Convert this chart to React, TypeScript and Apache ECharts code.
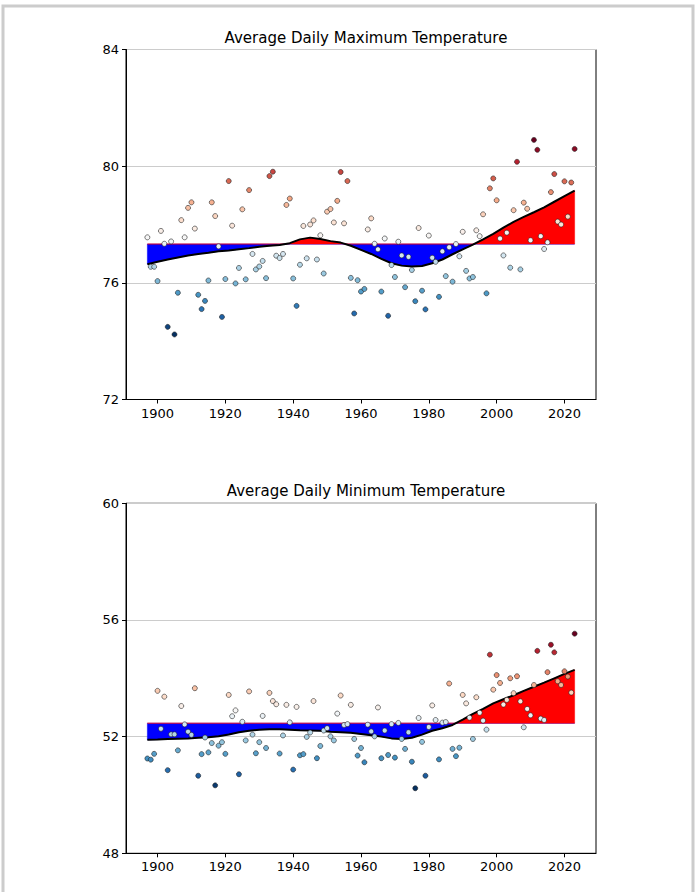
import React, { useEffect, useRef } from "react";
import * as echarts from "echarts";

const START_YEAR = 1897;

// Average daily maximum temperature, 1897..2023
const maxTemps = [
  77.56, 76.55, 76.55, 76.06, 77.78, 77.34, 74.49, 77.42, 74.23, 75.66, // 1897-1906
  78.15, 77.56, 78.57, 78.76, 77.86, 75.59, 75.10, 75.38, 76.08, 78.76, // 1907-1916
  78.29, 77.25, 74.83, 76.13, 79.49, 77.96, 75.98, 76.51, 78.52, 76.12, // 1917-1926
  79.18, 76.99, 76.46, 76.56, 76.75, 76.16, 79.66, 79.81, 76.93, 76.85, // 1927-1936
  76.99, 78.67, 78.89, 76.15, 75.21, 76.62, 77.95, 76.84, 78.00, 78.14, // 1937-1946
  76.80, 77.63, 76.32, 78.44, 78.53, 78.07, 78.81, 79.80, 78.04, 79.49, // 1947-1956
  76.17, 74.95, 76.09, 75.70, 75.79, 77.83, 78.21, 77.34, 77.15, 75.70, // 1957-1966
  77.52, 74.87, 76.61, 76.20, 77.41, 76.94, 75.85, 76.89, 76.44, 75.37, // 1967-1976
  77.88, 75.73, 75.09, 77.62, 76.86, 76.72, 75.52, 77.08, 76.23, 77.22, // 1977-1986
  76.04, 77.33, 76.91, 77.75, 76.41, 76.15, 76.20, 77.80, 77.60, 78.35, // 1987-1996
  75.64, 79.24, 79.58, 78.83, 77.52, 76.94, 77.72, 76.52, 78.49, 80.15, // 1997-2006
  76.46, 78.75, 78.54, 77.46, 80.90, 80.56, 77.60, 77.16, 77.39, 79.11, // 2007-2016
  79.73, 78.10, 78.00, 79.48, 78.27, 79.44, 80.59, // 2017-2023
];

// Average daily minimum temperature, 1897..2023
const minTemps = [
  51.25, 51.21, 51.41, 53.57, 52.27, 53.37, 50.85, 52.08, 52.08, 51.53, // 1897-1906
  53.05, 52.42, 52.17, 52.06, 53.66, 50.66, 51.40, 51.97, 51.46, 51.78, // 1907-1916
  50.33, 51.69, 51.81, 51.41, 53.43, 52.70, 52.90, 50.71, 52.51, 51.87, // 1917-1926
  53.55, 52.07, 51.43, 51.81, 52.71, 51.61, 53.50, 53.22, 53.11, 51.42, // 1927-1936
  52.04, 53.09, 52.49, 50.87, 53.02, 51.36, 51.40, 51.99, 52.14, 53.22, // 1937-1946
  51.26, 51.68, 52.21, 52.29, 52.01, 51.87, 52.79, 53.41, 52.40, 52.43, // 1947-1956
  53.09, 51.92, 51.35, 51.61, 51.12, 52.41, 52.18, 52.01, 53.00, 51.26, // 1957-1966
  52.21, 51.37, 52.43, 51.28, 52.47, 51.92, 51.58, 52.15, 51.14, 50.23, // 1967-1976
  52.64, 51.82, 50.66, 52.33, 53.07, 52.57, 51.22, 52.48, 52.50, 53.82, // 1977-1986
  51.58, 51.33, 51.62, 53.43, 53.14, 52.65, 51.92, 53.35, 52.82, 52.55, // 1987-1996
  52.24, 54.81, 53.61, 54.11, 53.84, 53.10, 53.26, 54.00, 53.49, 54.07, // 1997-2006
  53.21, 52.32, 52.95, 52.73, 53.77, 54.94, 52.62, 52.57, 54.21, 55.15, // 2007-2016
  54.89, 53.90, 53.77, 54.24, 54.06, 53.51, 55.53, // 2017-2023
];

// Smoothed trend read at these years
const trendYears = [
  1897, 1900, 1903, 1906, 1909, 1912, 1915, 1918, 1921, 1924, 1927, 1930, 1933, 1936, 1939,
  1942, 1945, 1948, 1951, 1954, 1957, 1960, 1963, 1966, 1969, 1972, 1975, 1978, 1981, 1984,
  1987, 1990, 1993, 1996, 1999, 2002, 2005, 2008, 2011, 2014, 2017, 2020, 2023,
];
const maxTrend = [
  76.64, 76.72, 76.80, 76.87, 76.94, 76.99, 77.03, 77.08, 77.11, 77.15, 77.19, 77.24, 77.27, 77.30, 77.36,
  77.49, 77.55, 77.50, 77.43, 77.38, 77.27, 77.13, 76.99, 76.82, 76.67, 76.59, 76.56, 76.58, 76.67, 76.80,
  76.98, 77.15, 77.31, 77.49, 77.68, 77.89, 78.09, 78.26, 78.42, 78.59, 78.78, 78.97, 79.16,
];
const minTrend = [
  51.89, 51.90, 51.92, 51.93, 51.94, 51.96, 51.98, 52.01, 52.07, 52.15, 52.20, 52.24, 52.25, 52.25, 52.24,
  52.22, 52.21, 52.20, 52.17, 52.15, 52.13, 52.09, 52.05, 52.00, 51.94, 51.92, 51.96, 52.07, 52.20, 52.29,
  52.40, 52.58, 52.78, 52.95, 53.14, 53.28, 53.42, 53.57, 53.71, 53.85, 54.00, 54.15, 54.29,
];

const maxBaseline = 77.33;
const minBaseline = 52.46;

const xTickYears = [1900, 1920, 1940, 1960, 1980, 2000, 2020];
const maxYRange = [72, 84];
const minYRange = [48, 60];
const titles = ["Average Daily Maximum Temperature", "Average Daily Minimum Temperature"];

const RDBU_R = [
  "#053061", "#2166ac", "#4393c3", "#92c5de", "#d1e5f0", "#f7f7f7",
  "#fddbc7", "#f4a582", "#d6604d", "#b2182b", "#67001f",
];

const FONT = "DejaVu Sans";

function buildOption() {
  const grids: any[] = [];
  const xAxes: any[] = [];
  const yAxes: any[] = [];
  const series: any[] = [];
  const visualMaps: any[] = [];
  const titleList: any[] = [];

  const panels = [
    { values: maxTemps, trend: maxTrend, base: maxBaseline, yr: maxYRange, top: 49.5, title: titles[0] },
    { values: minTemps, trend: minTrend, base: minBaseline, yr: minYRange, top: 503.3, title: titles[1] },
  ];

  panels.forEach((p, i) => {
    grids.push({
      left: 126,
      top: p.top,
      width: 470,
      height: 350,
      show: true,
      borderColor: "#000",
      borderWidth: 1,
      backgroundColor: "transparent",
    });
    xAxes.push({
      type: "value",
      gridIndex: i,
      min: 1890.7,
      max: 2029.3,
      splitLine: { show: false },
      axisLine: { show: true, onZero: false, lineStyle: { color: "#000", width: 1 } },
      axisTick: { show: true, length: 4, lineStyle: { color: "#000" }, customValues: xTickYears },
      axisLabel: {
        color: "#000",
        fontFamily: FONT,
        fontSize: 13,
        margin: 7,
        customValues: xTickYears,
        formatter: (v: number) => String(v),
      },
    });
    yAxes.push({
      type: "value",
      gridIndex: i,
      min: p.yr[0],
      max: p.yr[1],
      interval: 4,
      splitLine: { show: true, lineStyle: { color: "#cccccc", width: 1.2 } },
      axisLine: { show: true, onZero: false, lineStyle: { color: "#000", width: 1 } },
      axisTick: { show: true, length: 4, lineStyle: { color: "#000" } },
      axisLabel: { color: "#000", fontFamily: FONT, fontSize: 13, margin: 7 },
    });

    // fill between trend and baseline: blue below, red above
    const base = p.base;
    const trend = p.trend;
    series.push({
      type: "custom",
      xAxisIndex: i,
      yAxisIndex: i,
      z: 1,
      silent: true,
      encode: { x: 0, y: 1 },
      data: trendYears.map((y, k) => [y, trend[k]]),
      renderItem: (params: any, api: any) => {
        if (params.dataIndex !== 0) return null;
        // trend polyline including exact baseline crossings
        const pts: number[][] = [];
        for (let k = 0; k < trendYears.length; k++) {
          if (k > 0) {
            const t0 = trend[k - 1];
            const t1 = trend[k];
            if ((t0 - base) * (t1 - base) < 0) {
              const f = (base - t0) / (t1 - t0);
              const yx = trendYears[k - 1] + f * (trendYears[k] - trendYears[k - 1]);
              pts.push([yx, base]);
            }
          }
          pts.push([trendYears[k], trend[k]]);
        }
        const first = trendYears[0];
        const last = trendYears[trendYears.length - 1];
        const startC = api.coord([first, base]);
        const endC = api.coord([last, base]);
        const bluePts = [startC, ...pts.map(([x, t]) => api.coord([x, Math.min(t, base)])), endC];
        const redPts = [startC, ...pts.map(([x, t]) => api.coord([x, Math.max(t, base)])), endC];
        return {
          type: "group",
          children: [
            { type: "polygon", shape: { points: bluePts }, style: { fill: "#0000ff", stroke: "#0000ff", lineWidth: 0.5 } },
            { type: "polygon", shape: { points: redPts }, style: { fill: "#ff0000", stroke: "#ff0000", lineWidth: 0.5 } },
          ],
        };
      },
    });
    series.push({
      type: "line", xAxisIndex: i, yAxisIndex: i, symbol: "none", z: 3,
      lineStyle: { color: "#000", width: 2 },
      data: trendYears.map((y, k) => [y, trend[k]]),
    });
    const scatterIndex = series.length;
    series.push({
      type: "scatter", xAxisIndex: i, yAxisIndex: i, z: 4,
      symbolSize: 5,
      itemStyle: { borderColor: "#222", borderWidth: 0.6, opacity: 1 },
      data: p.values.map((v, k) => [START_YEAR + k, v]),
    });
    visualMaps.push({
      type: "continuous",
      show: false,
      seriesIndex: scatterIndex,
      dimension: 1,
      min: Math.min(...p.values),
      max: Math.max(...p.values),
      inRange: { color: RDBU_R },
    });
    titleList.push({
      text: p.title,
      left: 361,
      top: p.top - 24.5,
      textAlign: "center",
      textStyle: { fontFamily: FONT, fontSize: 15, fontWeight: "normal", color: "#000" },
    });
  });

  return {
    animation: false,
    backgroundColor: "#ffffff",
    title: titleList,
    grid: grids,
    xAxis: xAxes,
    yAxis: yAxes,
    visualMap: visualMaps,
    series,
    graphic: [
      {
        type: "rect",
        silent: true,
        shape: { x: 3, y: 6, width: 690, height: 900 },
        style: { fill: "none", stroke: "#cccccc", lineWidth: 3 },
      },
    ],
  };
}

export default function App() {
  const ref = useRef<HTMLDivElement>(null);
  useEffect(() => {
    if (!ref.current) return;
    const chart = echarts.init(ref.current, undefined, { renderer: "svg" });
    chart.setOption(buildOption() as any);
    return () => chart.dispose();
  }, []);
  return (
    <div
      ref={ref}
      style={{ position: "fixed", left: 0, top: 0, width: 697, height: 892, background: "#fff" }}
    />
  );
}
